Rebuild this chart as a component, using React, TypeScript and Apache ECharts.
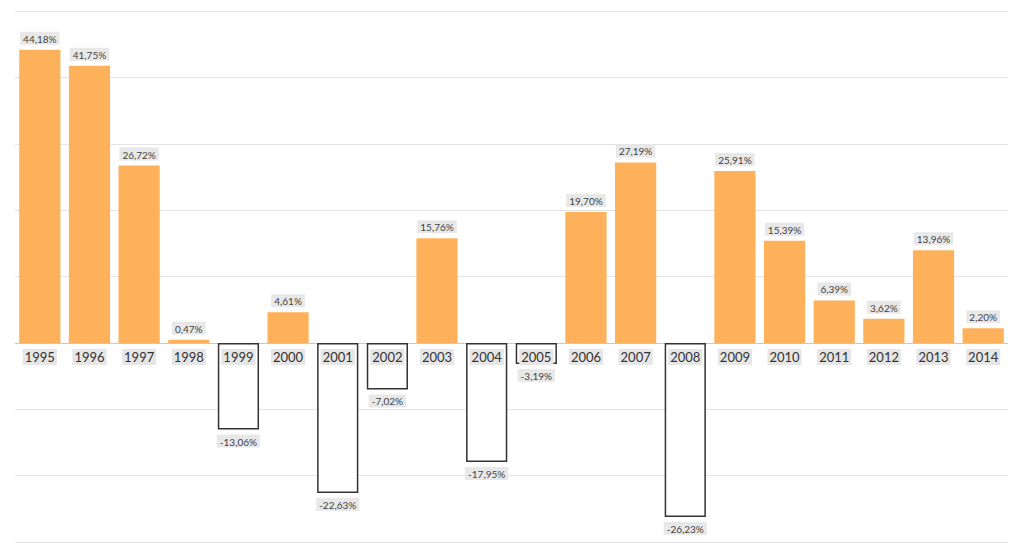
import React, { useEffect, useRef } from "react";
import * as echarts from "echarts";

const years = [
  "1995", "1996", "1997", "1998", "1999", "2000", "2001", "2002", "2003", "2004",
  "2005", "2006", "2007", "2008", "2009", "2010", "2011", "2012", "2013", "2014",
];

const returns = [
  44.18, 41.75, 26.72, 0.47, -13.06, 4.61, -22.63, -7.02, 15.76, -17.95,
  -3.19, 19.7, 27.19, -26.23, 25.91, 15.39, 6.39, 3.62, 13.96, 2.2,
];

const FONT = "Lato, 'Open Sans', sans-serif";
const ORANGE = "#FDB15B";
const GRID_LINE = "#e3e3e3";
const ZERO_LINE = "#c8c8c8";

const fmt = (v: number) => v.toFixed(2).replace(".", ",") + "%";

// grid geometry: top 11, bottom 16 -> 531px for -30..50
const GRID_TOP = 11;
const GRID_BOTTOM = 16;
const Y_MIN = -30;
const Y_MAX = 50;
const Y_STEP = 10;

const App: React.FC = () => {
  const chartRef = useRef<HTMLDivElement | null>(null);

  useEffect(() => {
    if (!chartRef.current) return;
    const chart = echarts.init(chartRef.current, null, { renderer: "svg" });

    const h = 558 - GRID_TOP - GRID_BOTTOM;
    // move the category axis up from the bottom edge to the zero line
    const zeroOffset = -(h * (0 - Y_MIN)) / (Y_MAX - Y_MIN);

    // one colour per split line, zero line slightly darker
    const lineCount = (Y_MAX - Y_MIN) / Y_STEP + 1;
    const zeroIndex = (0 - Y_MIN) / Y_STEP;
    const lineColors = Array.from({ length: lineCount }, (_, i) =>
      i === zeroIndex ? ZERO_LINE : GRID_LINE
    );

    const barData = returns.map((v) => {
      const neg = v < 0;
      return {
        value: v,
        itemStyle: neg
          ? { color: "#ffffff", borderColor: "#333333", borderWidth: 1.5 }
          : { color: ORANGE },
        label: { position: neg ? "bottom" : "top" },
      };
    });

    const option: any = {
      animation: false,
      backgroundColor: "#ffffff",
      grid: {
        left: 15,
        right: 16,
        top: GRID_TOP,
        bottom: GRID_BOTTOM,
        containLabel: false,
        outerBoundsMode: "none",
      },
      xAxis: {
        type: "category",
        data: years,
        position: "bottom",
        offset: zeroOffset,
        axisLine: { show: false, onZero: false },
        axisTick: { show: false },
        axisLabel: {
          interval: 0,
          margin: 6,
          fontFamily: FONT,
          fontSize: 13,
          color: "#333333",
          backgroundColor: "#e6e6e6",
          padding: [2, 2, 1, 2],
        },
        z: 10,
      },
      yAxis: {
        type: "value",
        min: Y_MIN,
        max: Y_MAX,
        interval: Y_STEP,
        axisLabel: { show: false },
        axisLine: { show: false },
        axisTick: { show: false },
        splitLine: { lineStyle: { color: lineColors, width: 1 } },
      },
      series: [
        {
          type: "bar",
          data: barData,
          barWidth: "83%",
          label: {
            show: true,
            distance: 5,
            fontFamily: FONT,
            fontSize: 10,
            color: "#444444",
            backgroundColor: "#e8e8e8",
            padding: [2, 3, 1, 3],
            formatter: (p: any) => fmt(p.value),
          },
        },
      ],
    };

    chart.setOption(option);
    return () => chart.dispose();
  }, []);

  return (
    <div
      ref={chartRef}
      style={{ position: "fixed", left: 0, top: 0, width: 1024, height: 558 }}
    />
  );
};

export default App;
